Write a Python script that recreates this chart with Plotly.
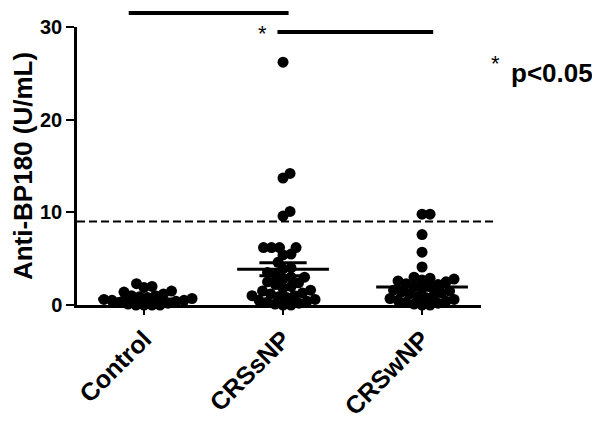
import plotly.graph_objects as go

# values (U/mL)
groups = ["Control", "CRSsNP", "CRSwNP"]

control = [2.3, 2.0, 1.9, 1.5, 1.4, 1.2, 1.0, 1.0, 0.9, 0.8, 0.7, 0.6,
           0.5, 0.5, 0.4, 0.3, 0.2, 0.1, 0.0, 0.0, 0.0, 0.0]
crssnp = [26.2, 14.2, 13.7, 10.1, 9.6, 6.2, 6.2, 6.2, 6.2, 5.5, 5.4, 4.6,
          4.0, 3.9, 3.5, 3.2, 3.0, 3.0, 2.8, 2.5, 2.4, 2.2, 2.0, 1.8, 1.6,
          1.5, 1.3, 1.2, 1.0, 1.0, 0.9, 0.8, 0.6, 0.5, 0.4, 0.3, 0.2, 0.1,
          0.0, 0.0]
crswnp = [9.8, 9.8, 7.6, 5.7, 4.1, 3.0, 2.9, 2.8, 2.7, 2.6, 2.5, 2.3, 2.2,
          2.0, 2.0, 1.8, 1.6, 1.5, 1.4, 1.3, 1.2, 1.0, 0.9, 0.8, 0.7, 0.6,
          0.5, 0.4, 0.3, 0.2, 0.1, 0.0, 0.0]

means = [0.65, 3.85, 1.95]
sems = [0.15, 0.7, 0.35]
cutoff = 9
y_ticks = [0, 10, 20, 30]

FONT = "Arial, Liberation Sans, sans-serif"

# plot geometry (px) used to spread points like a column scatter
PX_PER_UNIT = 278 / 30
PX_PER_CAT = 139
DOT_GAP = 8


def swarm(values):
    """Horizontal offsets so dots with similar values sit side by side."""
    placed = []
    offs = [0.0] * len(values)
    for i in sorted(range(len(values)), key=lambda k: values[k]):
        y = values[i] * PX_PER_UNIT
        step = 0
        while True:
            cands = [step] if step == 0 else [step, -step]
            ok = None
            for x in cands:
                if all((x - px) ** 2 + (y - py) ** 2 >= DOT_GAP ** 2 for px, py in placed):
                    ok = x
                    break
            if ok is not None:
                break
            step += 0.5
        placed.append((ok, y))
        offs[i] = ok / PX_PER_CAT
    return offs


fig = go.Figure()

for gi, vals in enumerate([control, crssnp, crswnp]):
    offs = swarm(vals)
    fig.add_trace(go.Scatter(
        x=[gi + o for o in offs], y=vals, mode="markers",
        marker=dict(color="black", size=11),
        cliponaxis=False, showlegend=False, hoverinfo="y",
    ))
    m, s = means[gi], sems[gi]
    # mean line
    fig.add_trace(go.Scatter(
        x=[gi - 0.33, gi + 0.33], y=[m, m], mode="lines",
        line=dict(color="black", width=3), showlegend=False, hoverinfo="skip",
    ))
    # SEM whiskers
    fig.add_trace(go.Scatter(
        x=[gi - 0.17, gi + 0.17, None, gi - 0.17, gi + 0.17, None, gi, gi],
        y=[m + s, m + s, None, m - s, m - s, None, m - s, m + s],
        mode="lines", line=dict(color="black", width=3),
        showlegend=False, hoverinfo="skip",
    ))

# dashed cut-off line
fig.add_shape(type="line", xref="paper", yref="paper",
              x0=0, x1=1.035, y0=cutoff / 30, y1=cutoff / 30,
              line=dict(color="black", width=2, dash="8px,4px"))

# significance bars
fig.add_shape(type="line", xref="x", yref="paper", x0=-0.11, x1=1.04,
              y0=1.05, y1=1.05, line=dict(color="black", width=4))
fig.add_shape(type="line", xref="x", yref="paper", x0=0.96, x1=2.08,
              y0=0.982, y1=0.982, line=dict(color="black", width=4))
star_font = dict(family=FONT, size=22, color="black")
fig.add_annotation(x=0.85, y=0.975, xref="x", yref="paper", text="*",
                   xanchor="center", yanchor="middle", showarrow=False, font=star_font)
fig.add_annotation(x=1.035, y=0.87, xref="paper", yref="paper", text="*",
                   xanchor="center", yanchor="middle", showarrow=False, font=star_font)
fig.add_annotation(x=1.07, y=0.835, xref="paper", yref="paper", text="p<0.05",
                   xanchor="left", yanchor="middle", showarrow=False,
                   font=dict(family=FONT, size=26, color="black", weight="bold"))

# page body adds 8px around the plot, so the figure is 8px smaller
fig.update_layout(
    width=592, height=415,
    margin=dict(l=69, r=119, t=19, b=118),
    paper_bgcolor="white", plot_bgcolor="white",
    font=dict(family=FONT, color="black"),
    xaxis=dict(
        range=[-0.482, 2.424], tickmode="array", tickvals=[0, 1, 2],
        ticktext=groups, tickangle=-45, automargin=False,
        tickfont=dict(size=25, weight="bold"),
        showline=True, linecolor="black", linewidth=2.5,
        ticks="outside", ticklen=7, tickwidth=2, tickcolor="black",
        showgrid=False, zeroline=False,
    ),
    yaxis=dict(
        range=[0, 30], tickvals=y_ticks, automargin=False,
        tickfont=dict(size=20, weight="bold"),
        title=dict(text="Anti-BP180 (U/mL)", font=dict(size=26, weight="bold"),
                   standoff=8),
        showline=True, linecolor="black", linewidth=2.5,
        ticks="outside", ticklen=8, tickwidth=2, tickcolor="black",
        showgrid=False, zeroline=False,
    ),
)

fig.write_html("out.html")
